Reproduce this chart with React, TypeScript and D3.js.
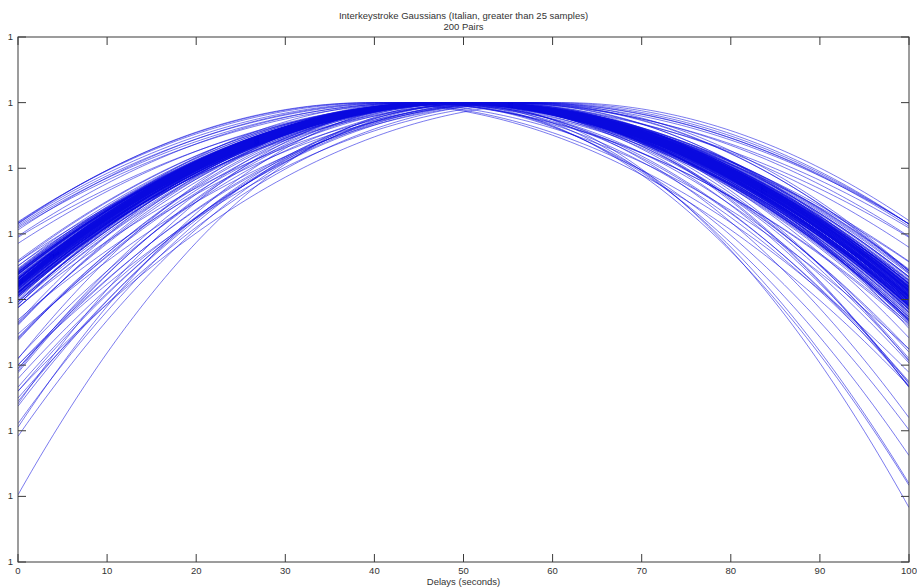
import React from "react";
import * as d3 from "d3";

const W = 917;
const H = 587;
const M = { left: 18, top: 37, right: 8, bottom: 25 };

const titleLines = ["Interkeystroke Gaussians (Italian, greater than 25 samples)", "200 Pairs"];
const xLabel = "Delays (seconds)";
const xTicks = [0, 10, 20, 30, 40, 50, 60, 70, 80, 90, 100];
const yTicks = [0.993, 0.994, 0.995, 0.996, 0.997, 0.998, 0.999, 1.0, 1.001];
const yTickLabels = ["1", "1", "1", "1", "1", "1", "1", "1", "1"];

// Gaussian means (seconds) for the 200 pairs
const means = [
  48.2, 49.5, 50.2, 48.8, 48.0, 49.9, 50.6, 49.0, 48.4, 49.2,
  49.4, 50.4, 47.8, 48.6, 49.3, 50.9, 48.3, 49.7, 48.9, 49.1,
  49.8, 48.5, 47.9, 49.7, 49.0, 50.7, 48.7, 48.1, 49.9, 49.3,
  50.3, 48.5, 47.6, 49.5, 49.6, 51.0, 48.2, 48.9, 50.1, 49.1,
  48.0, 49.8, 48.7, 50.5, 48.0, 49.4, 50.3, 48.8, 48.4, 49.7,
  49.2, 47.8, 50.8, 48.6, 49.9, 48.2, 49.0, 49.9, 49.0, 47.5,
  49.5, 50.7, 48.3, 49.2, 50.5, 48.6, 47.9, 49.8, 49.4, 48.5,
  51.1, 48.8, 49.6, 47.7, 49.3, 50.2, 48.1, 48.9, 49.7, 51.0,
  47.4, 49.1, 50.4, 48.5, 48.3, 49.7, 49.5, 48.0, 50.6, 48.7,
  49.9, 48.0, 49.3, 50.2, 49.0, 47.6, 49.6, 50.8, 48.4, 49.1,
  49.8, 48.7, 48.0, 49.8, 49.4, 48.2, 51.3, 48.8, 49.7, 47.3,
  49.0, 50.3, 48.4, 48.6, 49.9, 50.5, 47.8, 49.2, 50.1, 48.1,
  49.0, 49.5, 47.9, 51.0, 49.3, 48.3, 49.8, 48.6, 50.4, 49.2,
  47.6, 49.6, 48.8, 48.2, 50.7, 49.4, 50.0, 48.5, 47.8, 49.9,
  48.5, 49.1, 50.3, 48.9, 49.7, 47.5, 50.9, 49.3, 48.3, 49.6,
  40.0, 41.0, 42.5, 44.0, 45.5, 47.0, 50.0, 53.0, 55.0, 56.5,
  58.0, 59.5, 61.0, 43.0, 48.5, 51.5, 57.0, 45.0, 54.0, 39.5,
  49.6, 48.0, 47.0, 50.5, 52.0, 45.0, 46.0, 55.0, 56.0, 57.0,
  54.0, 53.0, 48.5, 51.0, 47.5, 49.0, 52.5, 50.0, 46.5, 55.5,
  44.5, 53.5, 48.0, 51.5, 50.0, 47.0, 54.5, 49.5, 46.0, 52.0,
];

// Gaussian standard deviations (seconds) for the 200 pairs
const sigmas = [
  658, 650, 666, 674, 643, 660, 683, 652, 669, 646,
  662, 678, 640, 655, 672, 685, 645, 664, 653, 659,
  680, 649, 641, 667, 657, 676, 651, 661, 647, 670,
  655, 682, 644, 663, 652, 687, 666, 648, 659, 677,
  642, 669, 656, 679, 650, 664, 647, 661, 672, 654,
  685, 645, 662, 653, 674, 658, 649, 668, 642, 681,
  657, 663, 673, 646, 660, 678, 640, 667, 652, 661,
  684, 650, 671, 643, 658, 676, 655, 665, 648, 680,
  639, 664, 656, 670, 651, 677, 660, 645, 663, 654,
  672, 649, 667, 658, 681, 642, 661, 675, 652, 659,
  646, 668, 654, 683, 657, 665, 648, 661, 673, 644,
  678, 655, 662, 651, 669, 659, 649, 684, 642, 666,
  657, 675, 653, 662, 647, 670, 655, 680, 646, 664,
  686, 651, 660, 674, 641, 667, 656, 648, 677, 660,
  652, 669, 645, 679, 658, 666, 649, 672, 661, 654,
  661, 680, 700, 720, 740, 760, 780, 760, 740, 715,
  690, 665, 650, 690, 740, 730, 700, 705, 720, 650,
  453, 482, 490, 560, 540, 550, 585, 590, 610, 600,
  575, 600, 590, 600, 605, 575, 620, 610, 600, 620,
  600, 560, 530, 520, 590, 570, 605, 545, 520, 515,
];

const xs = d3.range(0, 100.001, 0.5);

export default function App() {
  const iw = W - M.left - M.right;
  const ih = H - M.top - M.bottom;
  const x = d3.scaleLinear().domain([0, 100]).range([M.left, M.left + iw]);
  const y = d3.scaleLinear().domain([0.993, 1.001]).range([M.top + ih, M.top]);

  const paths = means.map((mu, i) => {
    const s = sigmas[i];
    const gen = d3
      .line<number>()
      .x((d) => x(d))
      .y((d) => y(Math.exp(-((d - mu) * (d - mu)) / (2 * s * s))));
    return gen(xs) as string;
  });

  const font = "'Liberation Sans', Arial, Helvetica, sans-serif";
  const tickLen = 8;
  const axisColor = "#3a3a3a";
  const textColor = "#333";

  return (
    <svg
      width={W}
      height={H}
      style={{ position: "absolute", left: 0, top: 0, background: "#fff" }}
      fontFamily={font}
    >
      <rect x={0} y={0} width={W} height={H} fill="#fff" />
      <defs>
        <clipPath id="plotclip">
          <rect x={M.left} y={M.top} width={iw} height={ih} />
        </clipPath>
      </defs>
      <g clipPath="url(#plotclip)">
        {paths.map((d, i) => (
          <path key={i} d={d} fill="none" stroke="#0a0ae0" strokeWidth={0.9} strokeOpacity={0.6} />
        ))}
      </g>
      <rect x={M.left} y={M.top} width={iw} height={ih} fill="none" stroke={axisColor} strokeWidth={1} />
      {xTicks.map((t) => (
        <g key={"x" + t}>
          <line x1={x(t)} x2={x(t)} y1={M.top + ih} y2={M.top + ih - tickLen} stroke={axisColor} />
          <line x1={x(t)} x2={x(t)} y1={M.top} y2={M.top + tickLen} stroke={axisColor} />
          <text x={x(t)} y={M.top + ih + 12} textAnchor="middle" fontSize={9.5} fill={textColor}>
            {t}
          </text>
        </g>
      ))}
      {yTicks.map((t, i) => (
        <g key={"y" + i}>
          <line x1={M.left} x2={M.left + tickLen} y1={y(t)} y2={y(t)} stroke={axisColor} />
          <line x1={M.left + iw} x2={M.left + iw - tickLen} y1={y(t)} y2={y(t)} stroke={axisColor} />
          <text x={M.left - 5} y={y(t) + 3} textAnchor="end" fontSize={9.5} fill={textColor}>
            {yTickLabels[i]}
          </text>
        </g>
      ))}
      <text x={x(50)} y={M.top + ih + 23} textAnchor="middle" fontSize={9.5} fill={textColor}>
        {xLabel}
      </text>
      {titleLines.map((t, i) => (
        <text key={t} x={x(50)} y={19 + i * 11} textAnchor="middle" fontSize={9.5} fill={textColor}>
          {t}
        </text>
      ))}
    </svg>
  );
}
